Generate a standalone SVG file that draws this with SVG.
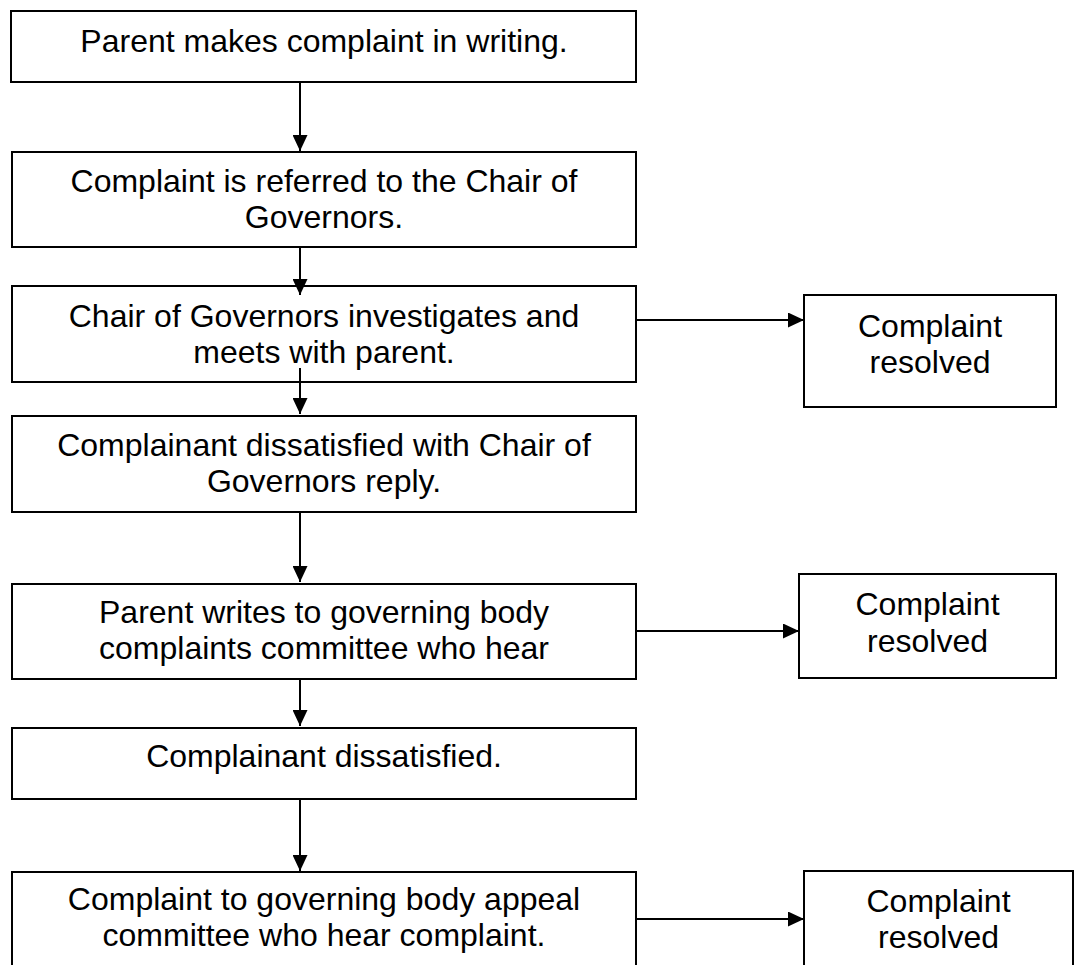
<svg xmlns="http://www.w3.org/2000/svg" width="1078" height="965" viewBox="0 0 1078 965">
<defs>
<style>
.box{fill:#fff;stroke:#000;stroke-width:2}
.t{font-family:"Liberation Sans",Arial,sans-serif;font-size:32px;fill:#000;text-anchor:middle}
.c{stroke:#000;stroke-width:2;fill:none}
</style>
<marker id="ah" markerUnits="userSpaceOnUse" markerWidth="16" markerHeight="15" refX="16" refY="7.5" orient="auto">
<path d="M0,0 L16,7.5 L0,15 z" fill="#000"/>
</marker>
</defs>
<rect width="1078" height="965" fill="#fff"/>
<g id="n1"><rect class="box" x="11" y="11" width="625" height="71"/><text class="t" x="324" y="52">Parent makes complaint in writing.</text></g>
<g id="n2"><rect class="box" x="12" y="152" width="624" height="95"/><text class="t" x="324" y="192">Complaint is referred to the Chair of</text><text class="t" x="324" y="228">Governors.</text></g>
<g id="n3"><rect class="box" x="12" y="286" width="624" height="96"/><text class="t" x="324" y="327">Chair of Governors investigates and</text><text class="t" x="324" y="363">meets with parent.</text></g>
<g id="n4"><rect class="box" x="12" y="416" width="624" height="96"/><text class="t" x="324" y="456">Complainant dissatisfied with Chair of</text><text class="t" x="324" y="492">Governors reply.</text></g>
<g id="n5"><rect class="box" x="12" y="584" width="624" height="95"/><text class="t" x="324" y="623">Parent writes to governing body</text><text class="t" x="324" y="659">complaints committee who hear</text></g>
<g id="n6"><rect class="box" x="12" y="728" width="624" height="71"/><text class="t" x="324" y="767">Complainant dissatisfied.</text></g>
<g id="n7"><rect class="box" x="12" y="872" width="624" height="110"/><text class="t" x="324" y="910">Complaint to governing body appeal</text><text class="t" x="324" y="946">committee who hear complaint.</text></g>
<g id="r1"><rect class="box" x="804" y="295" width="252" height="112"/><text class="t" x="930" y="337">Complaint</text><text class="t" x="930" y="373">resolved</text></g>
<g id="r2"><rect class="box" x="799" y="574" width="257" height="104"/><text class="t" x="927.5" y="615">Complaint</text><text class="t" x="927.5" y="652">resolved</text></g>
<g id="r3"><rect class="box" x="804" y="871" width="269" height="110"/><text class="t" x="938.5" y="912">Complaint</text><text class="t" x="938.5" y="948">resolved</text></g>
<g id="connectors">
<line class="c" x1="300" y1="82" x2="300" y2="151" marker-end="url(#ah)"/>
<line class="c" x1="300" y1="247" x2="300" y2="295" marker-end="url(#ah)"/>
<line class="c" x1="300" y1="368" x2="300" y2="414" marker-end="url(#ah)"/>
<line class="c" x1="300" y1="512" x2="300" y2="582" marker-end="url(#ah)"/>
<line class="c" x1="300" y1="679" x2="300" y2="726" marker-end="url(#ah)"/>
<line class="c" x1="300" y1="799" x2="300" y2="871" marker-end="url(#ah)"/>
<line class="c" x1="636" y1="320" x2="804" y2="320" marker-end="url(#ah)"/>
<line class="c" x1="636" y1="631" x2="799" y2="631" marker-end="url(#ah)"/>
<line class="c" x1="636" y1="919" x2="804" y2="919" marker-end="url(#ah)"/>
</g>
</svg>
